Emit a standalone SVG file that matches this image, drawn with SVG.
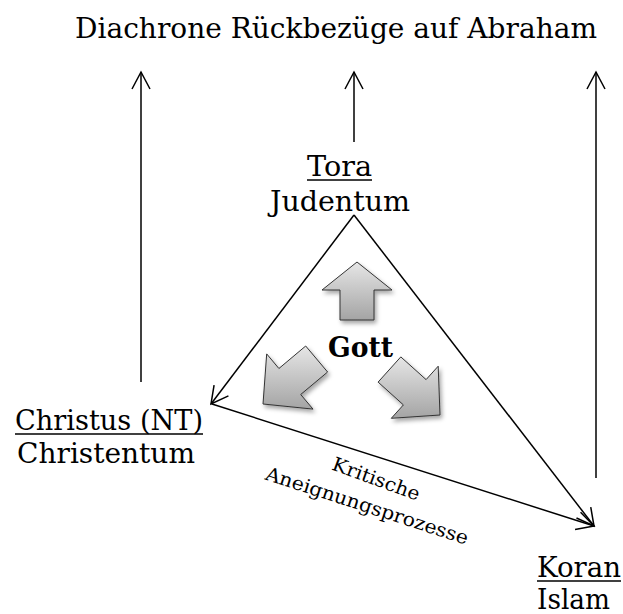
<svg xmlns="http://www.w3.org/2000/svg" width="623" height="614" viewBox="0 0 623 614">
<style>
  .t { font-family: "DejaVu Serif", "Liberation Serif", serif; fill: #000; }
  .lbl { font-size: 27px; }
  .small { font-size: 19px; }
  .bold { font-size: 28px; font-weight: bold; }
  .ln { stroke: #000; stroke-width: 1.5; fill: none; }
  .ul { stroke: #000; stroke-width: 1.5; }
  .blk { fill: url(#g); stroke: #333; stroke-width: 1; stroke-linejoin: miter; }
</style>
<defs>
  <marker id="ah" markerUnits="userSpaceOnUse" markerWidth="24" markerHeight="24" viewBox="0 0 24 20" refX="18" refY="10" orient="auto">
    <path d="M1,1 L18,10 L1,19" fill="none" stroke="#000" stroke-width="1.5"/>
  </marker>
  <linearGradient id="g" x1="0" y1="0" x2="0" y2="1">
    <stop offset="0" stop-color="#e6e6e6"/>
    <stop offset="1" stop-color="#a4a4a4"/>
  </linearGradient>
  <filter id="sh" x="-20%" y="-20%" width="150%" height="150%">
    <feDropShadow dx="2" dy="3" stdDeviation="2" flood-color="#000" flood-opacity="0.35"/>
  </filter>
</defs>

<g id="title">
  <text class="t lbl" x="75" y="38" textLength="522" lengthAdjust="spacingAndGlyphs">Diachrone Rückbezüge auf Abraham</text>
</g>

<g id="connectors">
  <line class="ln" x1="141" y1="382" x2="141" y2="72" marker-end="url(#ah)"/>
  <line class="ln" x1="354" y1="142" x2="354" y2="72" marker-end="url(#ah)"/>
  <line class="ln" x1="596" y1="478" x2="596" y2="72" marker-end="url(#ah)"/>
  <line class="ln" x1="354" y1="215" x2="211" y2="404" marker-end="url(#ah)"/>
  <line class="ln" x1="354" y1="215" x2="594" y2="526" marker-end="url(#ah)"/>
  <line class="ln" x1="212" y1="404" x2="594" y2="526" marker-end="url(#ah)"/>
</g>

<g id="tora">
  <text class="t lbl" x="307" y="176" textLength="65" lengthAdjust="spacingAndGlyphs">Tora</text>
  <line class="ul" x1="307" y1="180" x2="372" y2="180"/>
  <text class="t lbl" x="270" y="211" textLength="140" lengthAdjust="spacingAndGlyphs">Judentum</text>
</g>

<g id="christus">
  <text class="t lbl" x="15" y="430" textLength="188" lengthAdjust="spacingAndGlyphs">Christus (NT)</text>
  <line class="ul" x1="15" y1="434" x2="203" y2="434"/>
  <text class="t lbl" x="17" y="463" textLength="178" lengthAdjust="spacingAndGlyphs">Christentum</text>
</g>

<g id="koran">
  <text class="t lbl" x="537" y="577" textLength="84" lengthAdjust="spacingAndGlyphs">Koran</text>
  <line class="ul" x1="537" y1="581" x2="621" y2="581"/>
  <text class="t lbl" x="537" y="609" textLength="73" lengthAdjust="spacingAndGlyphs">Islam</text>
</g>

<g id="gott">
  <g filter="url(#sh)">
    <path class="blk" d="M357,262 L392,290 L374,290 L374,320 L340,320 L340,290 L322,290 Z"/>
  </g>
  <g filter="url(#sh)">
    <path class="blk" d="M263,404 L266.7,353.9 L278.9,368.5 L305.7,346 L327.6,372 L300.7,394.5 L313,409.1 Z"/>
  </g>
  <g filter="url(#sh)">
    <path class="blk" d="M440,415 L391.3,418.3 L403.4,404.9 L378.1,382.1 L400.8,356.9 L426.1,379.6 L438.2,366.2 Z"/>
  </g>
  <text class="t bold" x="328" y="357" textLength="65" lengthAdjust="spacingAndGlyphs">Gott</text>
</g>

<g id="label-kritisch">
  <text class="t small" text-anchor="middle" transform="translate(374,485) rotate(20)" textLength="92" lengthAdjust="spacingAndGlyphs">Kritische</text>
  <text class="t small" text-anchor="middle" transform="translate(365,512) rotate(18)" textLength="212" lengthAdjust="spacingAndGlyphs">Aneignungsprozesse</text>
</g>
</svg>
